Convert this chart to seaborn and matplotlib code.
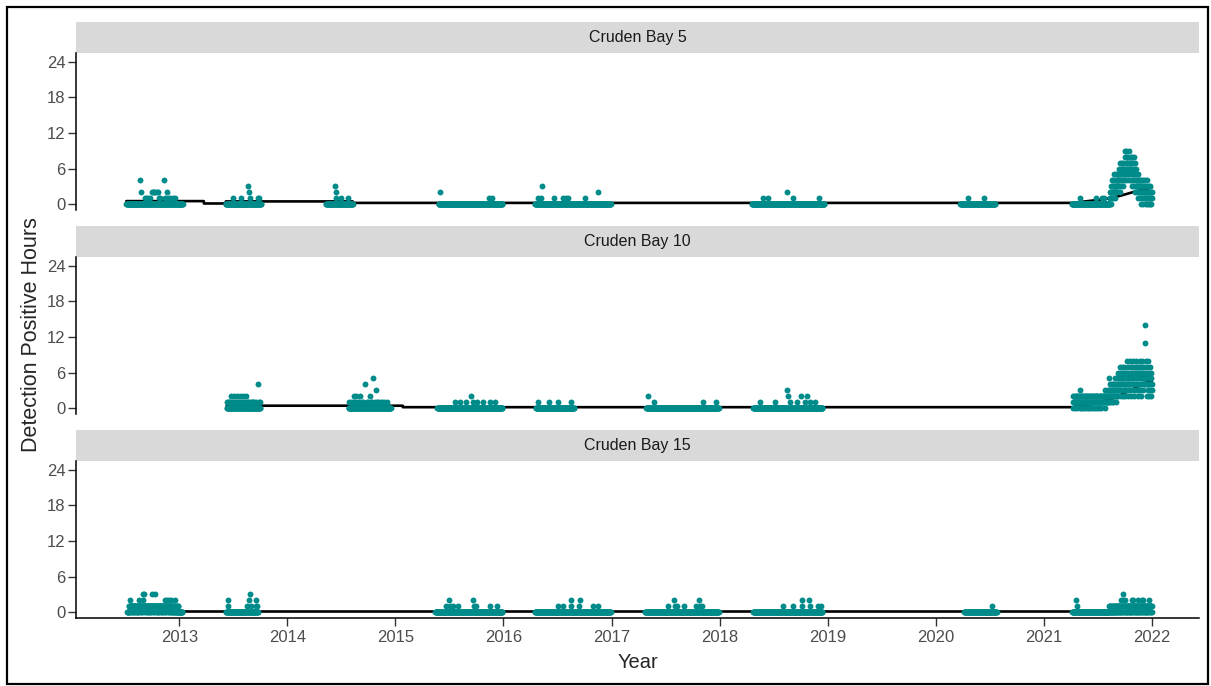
import matplotlib
matplotlib.use("Agg")
import matplotlib.pyplot as plt
import matplotlib.dates as mdates
from matplotlib.patches import Rectangle
import pandas as pd
import seaborn as sns

# ---------------------------------------------------------------------------
# Data: daily detection-positive hours at three Cruden Bay stations
# ---------------------------------------------------------------------------
sites = ["Cruden Bay 5", "Cruden Bay 10", "Cruden Bay 15"]
year_ticks = [2013, 2014, 2015, 2016, 2017, 2018, 2019, 2020, 2021, 2022]
y_ticks = [0, 6, 12, 18, 24]

# --- Cruden Bay 5 ----------------------------------------------------------
cb5_deployments = [
    ("2012-07-06", "2013-01-12"), ("2013-06-07", "2013-10-04"),
    ("2014-05-12", "2014-08-10"), ("2015-05-27", "2015-12-28"),
    ("2016-04-17", "2016-12-28"), ("2018-04-20", "2018-12-20"),
    ("2020-03-24", "2020-07-19"), ("2021-04-05", "2021-12-31"),
]
cb5_hits = [
    ("2012-08-22", 4), ("2012-08-25", 2), ("2012-09-06", 1), ("2012-09-12", 1),
    ("2012-09-18", 1), ("2012-09-24", 1), ("2012-10-01", 2), ("2012-10-04", 2),
    ("2012-10-08", 2), ("2012-10-12", 2), ("2012-10-16", 2), ("2012-10-20", 2),
    ("2012-10-25", 1), ("2012-10-29", 1), ("2012-11-10", 4), ("2012-11-14", 1),
    ("2012-11-20", 2), ("2012-11-24", 1), ("2012-12-02", 1), ("2012-12-10", 1),
    ("2012-12-16", 1),
    ("2013-07-01", 1), ("2013-07-30", 1), ("2013-08-22", 3), ("2013-08-24", 2),
    ("2013-08-27", 1), ("2013-09-24", 1), ("2013-09-28", 1),
    ("2014-06-12", 3), ("2014-06-13", 2), ("2014-06-15", 1), ("2014-06-30", 1),
    ("2014-07-26", 1),
    ("2015-06-01", 2), ("2015-11-14", 1), ("2015-11-25", 1),
    ("2016-04-27", 1), ("2016-05-08", 1), ("2016-05-12", 3), ("2016-06-21", 1),
    ("2016-07-20", 1), ("2016-07-31", 1), ("2016-08-07", 1), ("2016-10-01", 1),
    ("2016-11-14", 2),
    ("2018-05-26", 1), ("2018-06-13", 1), ("2018-08-15", 2), ("2018-09-06", 1),
    ("2018-12-02", 1),
    ("2020-04-20", 1), ("2020-06-10", 1),
    ("2021-05-01", 1), ("2021-06-25", 1), ("2021-07-14", 1), ("2021-07-22", 1),
]
cb5_autumn21_start = "2021-08-10"
cb5_autumn21_dph = [
    1, 0, 2, 1, 3, 0, 2, 4, 1, 2,
    3, 1, 2, 4, 2, 3, 5, 1, 3, 2,
    4, 2, 3, 5, 3, 4, 2, 5, 3, 4,
    5, 3, 6, 4, 2, 5, 7, 4, 3, 6,
    5, 7, 4, 6, 3, 5, 7, 6, 4, 5,
    6, 8, 5, 9, 7, 4, 9, 6, 5, 8,
    7, 5, 6, 8, 4, 7, 9, 5, 6, 7,
    6, 8, 4, 7, 5, 8, 6, 3, 7, 5,
    4, 6, 8, 3, 5, 7, 4, 2, 6, 3,
    5, 4, 2, 3, 4, 1, 3, 5, 2, 4,
    3, 2, 4, 1, 3, 2, 4, 0, 3, 2,
    1, 3, 4, 2, 0, 3, 1, 2, 4, 1,
    2, 3, 0, 1, 2, 4, 1, 3, 0, 2,
    1, 2, 3, 0, 1, 2, 0, 3, 1, 2,
    0, 1, 2, 1,
]
cb5_trend_dates = ["2012-07-06", "2013-03-25", "2013-03-25", "2013-06-07",
                   "2013-06-07", "2014-08-10", "2014-08-10", "2021-04-05",
                   "2021-06-15", "2021-08-01", "2021-09-15", "2021-10-20",
                   "2021-11-25", "2021-12-31"]
cb5_trend_dph = [0.5, 0.5, 0.1, 0.1, 0.45, 0.45, 0.2, 0.2,
                 0.6, 0.9, 1.4, 1.9, 2.4, 2.8]

# --- Cruden Bay 10 ---------------------------------------------------------
cb10_deployments = [
    ("2013-06-10", "2013-10-01"), ("2014-07-27", "2014-12-16"),
    ("2015-05-23", "2015-12-28"), ("2016-04-20", "2016-08-26"),
    ("2017-04-28", "2017-12-28"), ("2018-04-24", "2018-12-14"),
    ("2021-04-08", "2021-12-31"),
]
cb10_hits = [
    ("2013-06-12", 1), ("2013-06-15", 1), ("2013-06-18", 1), ("2013-06-21", 1),
    ("2013-06-25", 2), ("2013-06-28", 1), ("2013-07-02", 1), ("2013-07-05", 2),
    ("2013-07-09", 1), ("2013-07-12", 1), ("2013-07-15", 2), ("2013-07-19", 1),
    ("2013-07-22", 1), ("2013-07-25", 2), ("2013-07-28", 1), ("2013-07-31", 1),
    ("2013-08-04", 2), ("2013-08-08", 1), ("2013-08-11", 1), ("2013-08-14", 2),
    ("2013-08-17", 1), ("2013-08-21", 1), ("2013-08-26", 1), ("2013-08-30", 1),
    ("2013-09-03", 1), ("2013-09-08", 1), ("2013-09-12", 1), ("2013-09-17", 1),
    ("2013-09-24", 4), ("2013-09-26", 1), ("2013-09-29", 1),
    ("2014-07-30", 1), ("2014-08-05", 1), ("2014-08-10", 1), ("2014-08-15", 2),
    ("2014-08-18", 1), ("2014-08-22", 2), ("2014-08-27", 1), ("2014-09-01", 1),
    ("2014-09-05", 2), ("2014-09-10", 1), ("2014-09-15", 1), ("2014-09-21", 4),
    ("2014-09-26", 1), ("2014-10-01", 1), ("2014-10-06", 2), ("2014-10-11", 1),
    ("2014-10-15", 1), ("2014-10-19", 5), ("2014-10-23", 1), ("2014-10-26", 3),
    ("2014-10-30", 1), ("2014-11-04", 1), ("2014-11-10", 1), ("2014-11-17", 1),
    ("2014-11-25", 1), ("2014-12-05", 1),
    ("2015-07-20", 1), ("2015-08-08", 1), ("2015-08-26", 1), ("2015-09-13", 2),
    ("2015-09-20", 1), ("2015-10-05", 1), ("2015-10-23", 1), ("2015-11-18", 1),
    ("2015-12-02", 1),
    ("2016-04-27", 1), ("2016-06-03", 1), ("2016-07-02", 1), ("2016-08-18", 1),
    ("2017-05-05", 2), ("2017-05-23", 1), ("2017-11-06", 1), ("2017-12-20", 1),
    ("2018-05-16", 1), ("2018-07-06", 1), ("2018-08-15", 3), ("2018-08-18", 2),
    ("2018-08-26", 1), ("2018-09-20", 1), ("2018-10-01", 2), ("2018-10-16", 1),
    ("2018-10-23", 2), ("2018-11-02", 1), ("2018-11-18", 1),
]
cb10_season21_start = "2021-04-08"
cb10_season21_dph = [
    1, 0, 2, 1, 1, 2, 1, 0, 1, 2,
    1, 1, 2, 0, 2, 1, 1, 2, 1, 1,
    2, 1, 1, 0, 2, 3, 1, 2, 1, 0,
    1, 2, 1, 2, 0, 1, 1, 0, 2, 1,
    1, 2, 1, 0, 1, 2, 1, 1, 2, 1,
    0, 1, 2, 1, 2, 0, 1, 1, 1, 2,
    2, 1, 0, 1, 2, 1, 1, 0, 2, 1,
    1, 2, 1, 2, 1, 0, 1, 2, 1, 2,
    0, 1, 2, 1, 1, 2, 1, 0, 1, 1,
    2, 1, 1, 2, 0, 2, 1, 2, 1, 1,
    1, 2, 1, 1, 2, 1, 2, 0, 1, 2,
    3, 2, 2, 1, 1, 2, 1, 3, 2, 1,
    2, 5, 1, 3, 2, 4, 1, 2, 3, 2,
    3, 1, 4, 2, 3, 1, 2, 4, 3, 2,
    4, 2, 3, 5, 1, 3, 4, 2, 5, 3,
    2, 4, 3, 6, 2, 4, 5, 3, 7, 4,
    3, 5, 2, 6, 4, 3, 5, 7, 2, 4,
    5, 3, 6, 4, 7, 2, 5, 3, 6, 4,
    3, 6, 4, 8, 5, 2, 4, 7, 3, 5,
    6, 4, 8, 3, 5, 7, 4, 2, 6, 5,
    4, 7, 3, 5, 8, 4, 6, 2, 5, 7,
    3, 6, 4, 8, 5, 3, 7, 4, 6, 2,
    5, 7, 3, 4, 6, 8, 5, 3, 7, 4,
    6, 2, 5, 8, 4, 7, 3, 6, 5, 4,
    7, 5, 4, 11, 14, 6, 4, 8, 5, 2,
    6, 4, 7, 3, 5, 8, 2, 6, 4, 5,
    3, 7, 4, 6, 2, 5, 4, 3,
]
cb10_trend_dates = ["2013-06-10", "2015-01-26", "2015-01-26", "2021-04-08",
                    "2021-06-01", "2021-07-20", "2021-08-25", "2021-10-20",
                    "2021-12-10", "2021-12-31"]
cb10_trend_dph = [0.4, 0.4, 0.15, 0.15, 0.6, 1.2, 1.7, 3.0, 4.3, 4.6]

# --- Cruden Bay 15 ---------------------------------------------------------
cb15_deployments = [
    ("2012-07-09", "2013-01-11"), ("2013-06-08", "2013-09-24"),
    ("2015-05-16", "2015-12-28"), ("2016-04-17", "2016-12-28"),
    ("2017-04-24", "2017-12-28"), ("2018-04-24", "2018-12-13"),
    ("2020-04-06", "2020-07-24"), ("2021-04-06", "2021-12-31"),
]
cb15_hits = [
    ("2013-06-14", 2), ("2013-06-16", 1), ("2013-08-18", 1), ("2013-08-23", 2),
    ("2013-08-27", 3), ("2013-08-31", 1), ("2013-09-16", 2), ("2013-09-18", 1),
    ("2013-09-21", 1),
    ("2015-06-21", 1), ("2015-07-01", 2), ("2015-07-03", 1), ("2015-07-15", 1),
    ("2015-08-02", 1), ("2015-09-20", 2), ("2015-09-22", 1), ("2015-10-02", 1),
    ("2015-11-15", 1), ("2015-12-10", 1),
    ("2016-07-02", 1), ("2016-07-20", 1), ("2016-08-15", 1), ("2016-08-17", 2),
    ("2016-09-13", 1), ("2016-09-15", 2), ("2016-10-30", 1), ("2016-11-14", 1),
    ("2017-07-09", 1), ("2017-07-31", 2), ("2017-08-02", 1), ("2017-08-11", 1),
    ("2017-09-02", 1), ("2017-10-12", 1), ("2017-10-23", 2), ("2017-10-25", 1),
    ("2017-11-03", 1),
    ("2018-08-03", 1), ("2018-09-06", 1), ("2018-10-05", 2), ("2018-10-07", 1),
    ("2018-10-30", 2), ("2018-11-01", 1), ("2018-11-28", 1), ("2018-12-08", 1),
    ("2020-07-08", 1),
    ("2021-04-20", 2), ("2021-04-22", 1),
]
cb15_summer12_start = "2012-07-14"
cb15_summer12_dph = [
    1, 0, 1, 2, 1, 1, 0, 1, 1, 0,
    1, 1, 0, 1, 1, 1, 0, 1, 0, 1,
    1, 0, 1, 1, 0, 1, 1, 0, 1, 1,
    0, 1, 1, 0, 1, 2, 1, 1, 0, 1,
    1, 1, 0, 1, 1, 0, 1, 2, 1, 1,
    3, 1, 0, 3, 1, 1, 1, 1, 0, 1,
    1, 0, 1, 1, 1, 0, 1, 1, 0, 1,
    1, 1, 0, 1, 1, 1, 1, 0, 1, 3,
    1, 1, 0, 1, 1, 1, 0, 1, 1, 3,
    1, 1, 1, 0, 1, 1, 0, 1, 1, 1,
    0, 1, 1, 0, 1, 1, 1, 0, 1, 1,
    1, 0, 1, 1, 0, 1, 1, 1, 0, 1,
    1, 0, 1, 2, 1, 1, 0, 1, 1, 2,
    1, 1, 0, 1, 1, 2, 0, 1, 1, 0,
    1, 1, 0, 1, 2, 1, 0, 1, 1, 0,
    1, 0, 1, 1, 0, 2, 1, 0, 1, 0,
    1, 0, 0, 1, 0, 1, 0, 0, 1, 0,
]
cb15_autumn21_start = "2021-08-08"
cb15_autumn21_dph = [
    0, 1, 0, 1, 1, 0, 0, 1, 0, 1,
    0, 0, 1, 0, 1, 0, 1, 0, 0, 1,
    1, 0, 1, 0, 0, 1, 0, 1, 0, 1,
    1, 0, 1, 1, 0, 1, 0, 1, 0, 2,
    1, 0, 1, 0, 1, 1, 2, 3, 0, 1,
    1, 0, 1, 1, 0, 2, 1, 0, 1, 0,
    1, 1, 0, 1, 0, 1, 1, 0, 1, 1,
    0, 1, 0, 1, 1, 0, 1, 0, 1, 2,
    1, 2, 0, 1, 1, 0, 1, 1, 0, 1,
    1, 0, 1, 0, 1, 1, 0, 1, 2, 1,
    0, 1, 0, 1, 1, 0, 1, 0, 1, 1,
    0, 1, 2, 1, 2, 0, 1, 1, 0, 1,
    1, 0, 1, 1, 0, 1, 0, 1, 1, 0,
    1, 1, 0, 1, 2, 1, 0, 1, 1, 0,
    1, 0, 1, 1, 0, 1,
]
cb15_trend_dates = ["2012-07-09", "2021-12-31"]
cb15_trend_dph = [0.25, 0.25]


def daily_series(deployments, hits, runs):
    """Zero-filled daily record for each deployment, with detections applied."""
    parts = [pd.Series(0.0, index=pd.date_range(a, b, freq="D"))
             for a, b in deployments]
    s = pd.concat(parts)
    s = s[~s.index.duplicated()]
    for day, hours in hits:
        s[pd.Timestamp(day)] = hours
    for start, values in runs:
        days = pd.date_range(start, periods=len(values), freq="D")
        for d, v in zip(days, values):
            s[d] = v
    return s.sort_index()


station_series = {
    "Cruden Bay 5": daily_series(cb5_deployments, cb5_hits,
                                 [(cb5_autumn21_start, cb5_autumn21_dph)]),
    "Cruden Bay 10": daily_series(cb10_deployments, cb10_hits,
                                  [(cb10_season21_start, cb10_season21_dph)]),
    "Cruden Bay 15": daily_series(cb15_deployments, cb15_hits,
                                  [(cb15_summer12_start, cb15_summer12_dph),
                                   (cb15_autumn21_start, cb15_autumn21_dph)]),
}
detections = pd.concat(
    [pd.DataFrame({"site": name, "date": s.index, "dph": s.values})
     for name, s in station_series.items()],
    ignore_index=True,
)
trends = pd.concat(
    [pd.DataFrame({"site": name, "date": pd.to_datetime(d), "dph": v})
     for name, d, v in [("Cruden Bay 5", cb5_trend_dates, cb5_trend_dph),
                        ("Cruden Bay 10", cb10_trend_dates, cb10_trend_dph),
                        ("Cruden Bay 15", cb15_trend_dates, cb15_trend_dph)]],
    ignore_index=True,
)

# ---------------------------------------------------------------------------
# Figure
# ---------------------------------------------------------------------------
sns.set_style("ticks")
plt.rcParams["font.family"] = ["Liberation Sans", "DejaVu Sans"]

W, H = 1211, 686
fig = plt.figure(figsize=(W / 100, H / 100), dpi=100)

point_colour = "#008B8B"
strip_colour = "#D9D9D9"
tick_colour = "#4D4D4D"

left_px, right_px = 76, 1199
panel_h, strip_h, gap = 157, 31, 16
first_strip_top = 22

axes = []
for i, site in enumerate(sites):
    strip_top = first_strip_top + i * (panel_h + strip_h + gap)
    panel_top = strip_top + strip_h
    ax = fig.add_axes([left_px / W, 1 - (panel_top + panel_h) / H,
                       (right_px - left_px) / W, panel_h / H])
    axes.append(ax)

    sns.lineplot(data=trends[trends.site == site], x="date", y="dph",
                 estimator=None, sort=False, color="black", linewidth=1.9,
                 ax=ax, zorder=2)
    sns.scatterplot(data=detections[detections.site == site], x="date", y="dph",
                    color=point_colour, s=18, linewidth=0, ax=ax, zorder=3)

    ax.set_xlim(pd.Timestamp("2012-01-18"), pd.Timestamp("2022-06-08"))
    ax.set_ylim(-1.0, 25.5)
    ax.set_yticks(y_ticks)
    ax.set_xticks([pd.Timestamp(f"{y}-01-01") for y in year_ticks])
    ax.xaxis.set_major_formatter(mdates.DateFormatter("%Y"))
    ax.set_xlabel("")
    ax.set_ylabel("")

    for side in ("top", "right"):
        ax.spines[side].set_visible(False)
    ax.spines["left"].set_linewidth(1.1)
    ax.spines["left"].set_color("black")
    ax.tick_params(axis="y", length=5.5, width=1.0, color="#333333",
                   labelsize=12, labelcolor=tick_colour, pad=2)
    if i < len(sites) - 1:
        ax.spines["bottom"].set_visible(False)
        ax.tick_params(axis="x", bottom=False, labelbottom=False)
    else:
        ax.spines["bottom"].set_linewidth(1.1)
        ax.spines["bottom"].set_color("black")
        ax.tick_params(axis="x", length=5.5, width=1.0, color="#333333",
                       labelsize=12, labelcolor=tick_colour, pad=3)

    # facet strip
    ax.add_patch(Rectangle((0, 1), 1, strip_h / panel_h, transform=ax.transAxes,
                           facecolor=strip_colour, edgecolor="none",
                           clip_on=False, zorder=1))
    ax.text(0.5, 1 + strip_h / panel_h / 2, site, transform=ax.transAxes,
            ha="center", va="center", fontsize=11.5, color="#1A1A1A")

fig.text(637.5 / W, 1 - 663 / H, "Year", ha="center", va="center", fontsize=14.5)
fig.text(32 / W, 1 - 335 / H, "Detection Positive Hours", rotation=90,
         ha="center", va="center", fontsize=15.5)

# outer frame
fig.add_artist(Rectangle((7 / W, 1 - 684 / H), (1208 - 7) / W, (684 - 7) / H,
                         transform=fig.transFigure, fill=False,
                         edgecolor="black", linewidth=1.6))

fig.savefig("out.png", dpi=100)
